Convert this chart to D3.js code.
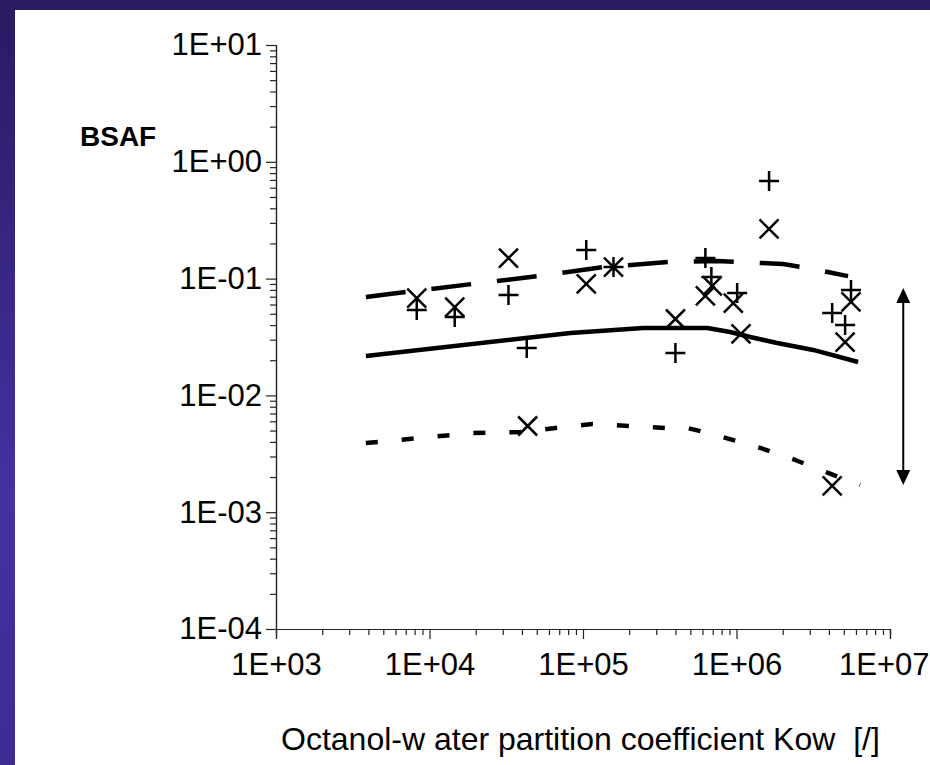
<!DOCTYPE html>
<html lang="en">
    <head>
        <meta charset="utf-8">
        <title>BSAF vs Kow</title>
        <script type="text/javascript" src="https://cdn.jsdelivr.net/npm/d3@7"></script>
        <style type="text/css">
        body {
            margin: 0;
            background: white;
        }
        text {
            font-family: "Liberation Sans", Arial, sans-serif;
            fill: black;
        }
        </style>
    </head>
    <body>
    <div id="canvas"></div>
    <script type="text/javascript">

    // measured points (Kow, BSAF)
    var plusKow  = [8.26e3, 1.46e4, 3.27e4, 1.05e5, 1.58e5, 4.30e4, 4.0e5, 6.27e5, 6.86e5, 1.01e6, 1.63e6, 5.57e6, 4.20e6, 5.10e6];
    var plusBsaf = [0.0538, 0.0469, 0.0724, 0.176, 0.1256, 0.0255, 0.0231, 0.150, 0.103, 0.0753, 0.686, 0.0798, 0.0507, 0.0401];

    var crossKow  = [8.26e3, 1.46e4, 3.27e4, 1.05e5, 1.58e5, 4.36e4, 4.0e5, 6.95e5, 6.27e5, 9.53e5, 1.07e6, 1.63e6, 5.57e6, 5.10e6, 4.20e6];
    var crossBsaf = [0.0682, 0.0571, 0.150, 0.090, 0.1256, 0.00547, 0.0451, 0.0865, 0.0710, 0.0618, 0.0336, 0.266, 0.0631, 0.0286, 0.00168];

    // model curves
    var upperKow  = [3.85e3, 7.0e3, 1.91e4, 5.06e4, 1.36e5, 3.71e5, 7.5e5, 2.01e6, 2.93e6, 5.33e6];
    var upperBsaf = [0.0695, 0.0767, 0.090, 0.105, 0.1256, 0.139, 0.1415, 0.1334, 0.123, 0.105];

    var midKow  = [3.85e3, 4.23e4, 8.3e4, 2.47e5, 6.46e5, 9.1e5, 1.23e6, 1.84e6, 3.16e6, 6.2e6];
    var midBsaf = [0.0217, 0.031, 0.0342, 0.0378, 0.0378, 0.0349, 0.0316, 0.0281, 0.0245, 0.0193];

    var lowKow  = [3.85e3, 1.91e4, 3.93e4, 6.63e4, 1.15e5, 1.98e5, 3.44e5, 4.79e5, 6.95e5, 1.43e6, 2.41e6, 3.95e6, 6.38e6];
    var lowBsaf = [0.00391, 0.00476, 0.00486, 0.00526, 0.00569, 0.00547, 0.00526, 0.00526, 0.00467, 0.00355, 0.0028, 0.00217, 0.00171];

    // range arrow at the right
    var arrowKow = 1.22e7;
    var arrowRange = [0.0832, 0.00171];

    var xDecades = [1e3, 1e4, 1e5, 1e6, 1e7];
    var yDecades = [1e-4, 1e-3, 1e-2, 1e-1, 1e0, 1e1];

    var w = 930, h = 765;

    var svg = d3.select("#canvas").append("svg")
                .attr("width", w)
                .attr("height", h);

    var defs = svg.append("defs");
    var grad = defs.append("linearGradient")
                .attr("id", "frame")
                .attr("x1", 0).attr("y1", 0).attr("x2", 0).attr("y2", 1);
    grad.append("stop").attr("offset", "0%").attr("stop-color", "#2a1a62");
    grad.append("stop").attr("offset", "65%").attr("stop-color", "#4531a2");
    grad.append("stop").attr("offset", "100%").attr("stop-color", "#3e2b92");

    svg.append("rect").attr("width", w).attr("height", h).attr("fill", "url(#frame)");
    svg.append("rect").attr("width", w).attr("height", 10).attr("fill", "#2b1b64");
    svg.append("rect").attr("x", 15).attr("y", 10).attr("width", w - 15).attr("height", h - 10).attr("fill", "white");

    var x = d3.scaleLog().domain([1e3, 1e7]).range([276, 890]);
    var y = d3.scaleLog().domain([1e-4, 1e1]).range([629, 45]);

    function expLabel(d) {
        var e = Math.round(Math.log10(d));
        var s = Math.abs(e) < 10 ? "0" + Math.abs(e) : "" + Math.abs(e);
        return "1E" + (e < 0 ? "-" : "+") + s;
    }

    function minorTicks(decades) {
        var out = [];
        for (var i = 0; i < decades.length - 1; i++) {
            for (var k = 2; k <= 9; k++) out.push(decades[i] * k);
        }
        return out;
    }

    // x axis
    var xMinor = d3.axisBottom(x).tickValues(minorTicks(xDecades)).tickSize(6).tickFormat("");
    var xMajor = d3.axisBottom(x).tickValues(xDecades).tickSize(10).tickPadding(14).tickFormat(expLabel);

    var gx = svg.append("g").attr("transform", "translate(0," + y(1e-4) + ")");
    gx.append("g").call(xMinor);
    gx.append("g").call(xMajor);

    var yMinor = d3.axisLeft(y).tickValues(minorTicks(yDecades)).tickSize(6).tickFormat("");
    var yMajor = d3.axisLeft(y).tickValues(yDecades).tickSize(10).tickPadding(4).tickFormat(expLabel);

    var gy = svg.append("g").attr("transform", "translate(" + x(1e3) + ",0)");
    gy.append("g").call(yMinor);
    gy.append("g").call(yMajor);

    svg.selectAll(".domain").attr("stroke", "#222").attr("stroke-width", 1.2);
    svg.selectAll(".tick line").attr("stroke", "#222").attr("stroke-width", 1.2);
    svg.selectAll(".tick text").style("font-size", "31px").attr("fill", "black");

    // last x label sits against the right edge
    gx.selectAll(".tick text")
        .filter(function(d) { return d === 1e7; })
        .attr("text-anchor", "end")
        .attr("x", w - 1 - x(1e7));

    // axis titles
    svg.append("text")
        .attr("x", 80).attr("y", 146)
        .style("font-size", "28px")
        .style("font-weight", "bold")
        .text("BSAF");

    svg.append("text")
        .attr("x", 281).attr("y", 750)
        .style("font-size", "32px")
        .style("white-space", "pre")
        .text("Octanol-w ater partition coefficient Kow  [/]");

    // curves
    var line = d3.line()
                .x(function(d) { return x(d[0]); })
                .y(function(d) { return y(d[1]); });

    var curves = [
        {kow: upperKow, bsaf: upperBsaf, dash: "40,26"},
        {kow: midKow, bsaf: midBsaf, dash: null},
        {kow: lowKow, bsaf: lowBsaf, dash: "12,24"}
    ];

    svg.selectAll("path.curve")
        .data(curves)
        .enter()
        .append("path")
        .attr("class", "curve")
        .attr("d", function(c) { return line(c.kow.map(function(k, i) { return [k, c.bsaf[i]]; })); })
        .attr("fill", "none")
        .attr("stroke", "black")
        .attr("stroke-width", 4.5)
        .attr("stroke-linejoin", "round")
        .attr("stroke-dasharray", function(c) { return c.dash; });

    // markers
    var plusPts = plusKow.map(function(k, i) { return [k, plusBsaf[i]]; });
    var crossPts = crossKow.map(function(k, i) { return [k, crossBsaf[i]]; });

    svg.selectAll("path.plus")
        .data(plusPts)
        .enter()
        .append("path")
        .attr("class", "plus")
        .attr("transform", function(d) { return "translate(" + x(d[0]) + "," + y(d[1]) + ")"; })
        .attr("d", "M-10,0H10M0,-10V10")
        .attr("stroke", "black")
        .attr("stroke-width", 2.5);

    svg.selectAll("path.cross")
        .data(crossPts)
        .enter()
        .append("path")
        .attr("class", "cross")
        .attr("transform", function(d) { return "translate(" + x(d[0]) + "," + y(d[1]) + ")"; })
        .attr("d", "M-9.5,-9.5L9.5,9.5M-9.5,9.5L9.5,-9.5")
        .attr("stroke", "black")
        .attr("stroke-width", 2.5);

    // double arrow
    var ax = x(arrowKow), ay1 = y(arrowRange[0]), ay2 = y(arrowRange[1]);
    svg.append("line")
        .attr("x1", ax).attr("x2", ax)
        .attr("y1", ay1 + 10).attr("y2", ay2 - 10)
        .attr("stroke", "black")
        .attr("stroke-width", 2);
    svg.append("path")
        .attr("d", "M" + ax + "," + ay1 + "L" + (ax - 7) + "," + (ay1 + 15) + "L" + (ax + 7) + "," + (ay1 + 15) + "Z")
        .attr("fill", "black");
    svg.append("path")
        .attr("d", "M" + ax + "," + ay2 + "L" + (ax - 7) + "," + (ay2 - 15) + "L" + (ax + 7) + "," + (ay2 - 15) + "Z")
        .attr("fill", "black");

    </script>
    </body>
</html>
